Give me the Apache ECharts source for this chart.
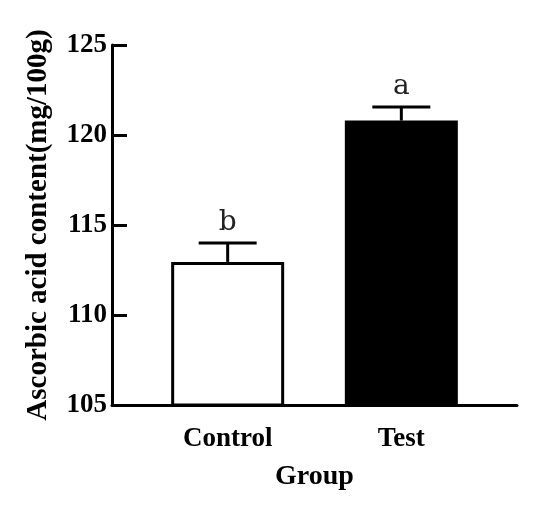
<!DOCTYPE html>
<html>
<head>
<meta charset="utf-8">
<script src="https://cdn.jsdelivr.net/npm/echarts@6/dist/echarts.min.js"></script>
<style>html,body{margin:0;padding:0;background:#fff}#c{width:550px;height:511px}</style>
</head>
<body>
<div id="c"></div>
<script>
var categories = ['Control', 'Test'];
var means = [112.95, 120.8];
var errors = [1.05, 0.75];
var letters = ['b', 'a'];
var yTicks = [105, 110, 115, 120, 125];

var chart = echarts.init(document.getElementById('c'), null, {renderer: 'canvas'});
var serif = '"Liberation Serif", "Times New Roman", serif';

var barData = means.map(function (m, i) {
  return {
    value: [i + 1, m],
    itemStyle: i === 0
      ? {color: '#ffffff', borderColor: '#000', borderWidth: 3}
      : {color: '#000000', borderColor: '#000', borderWidth: 0}
  };
});
var errData = means.map(function (m, i) { return [i + 1, m, m + errors[i], i]; });

chart.setOption({
  animation: false,
  grid: {left: 112, right: 33, top: 45, bottom: 106, containLabel: false},
  xAxis: {
    type: 'value', min: 0.334, max: 2.666,
    name: 'Group', nameLocation: 'middle', nameGap: 58,
    nameTextStyle: {fontFamily: serif, fontWeight: 'bold', fontSize: 28, color: '#000'},
    axisLine: {show: true, onZero: false, lineStyle: {color: '#000', width: 3}},
    axisTick: {show: false},
    splitLine: {show: false},
    axisLabel: {
      customValues: [1, 2], margin: 21,
      fontFamily: serif, fontWeight: 'bold', fontSize: 27, color: '#000',
      formatter: function (v) { return categories[Math.round(v) - 1] || ''; }
    }
  },
  yAxis: {
    type: 'value', min: yTicks[0], max: yTicks[yTicks.length - 1], interval: 5,
    name: 'Ascorbic acid content(mg/100g)', nameLocation: 'middle', nameGap: 59,
    nameTextStyle: {fontFamily: serif, fontWeight: 'bold', fontSize: 29, color: '#000'},
    axisLine: {show: true, lineStyle: {color: '#000', width: 3}},
    axisTick: {show: true, inside: true, length: 15, lineStyle: {color: '#000', width: 3}},
    splitLine: {show: false},
    axisLabel: {margin: 5, fontFamily: serif, fontWeight: 'bold', fontSize: 27, color: '#000'}
  },
  series: [
    {
      type: 'bar', data: barData, barWidth: 113, z: 2
    },
    {
      type: 'custom', z: 3, data: errData,
      renderItem: function (params, api) {
        var x = api.value(0);
        var top = api.coord([x, api.value(1)]);
        var cap = api.coord([x, api.value(2)]);
        var half = 29;
        var ls = {stroke: '#000', lineWidth: 3};
        return {
          type: 'group',
          children: [
            {type: 'line', shape: {x1: top[0], y1: top[1], x2: cap[0], y2: cap[1]}, style: ls},
            {type: 'line', shape: {x1: cap[0] - half, y1: cap[1], x2: cap[0] + half, y2: cap[1]}, style: ls},
            {type: 'text', style: {
              x: cap[0], y: cap[1] - 6, text: letters[api.value(3)],
              textAlign: 'center', textVerticalAlign: 'bottom',
              font: '28px "DejaVu Serif", serif', fill: '#222'
            }}
          ]
        };
      }
    }
  ]
});
</script>
</body>
</html>
